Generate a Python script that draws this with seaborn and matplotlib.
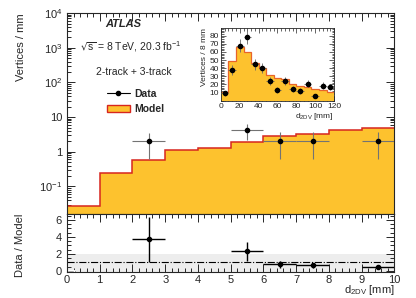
import numpy as np
import pandas as pd
import matplotlib
matplotlib.use("Agg")
import matplotlib.pyplot as plt
import seaborn as sns
from matplotlib.ticker import MultipleLocator, FixedLocator, FixedFormatter, LogLocator, NullFormatter
from matplotlib.lines import Line2D
from matplotlib.patches import Patch

# main panel: vertices per mm in 1 mm bins of d_2DV
bin_edges = [0, 1, 2, 3, 4, 5, 6, 7, 8, 9, 10]
model = [0.028, 0.24, 0.59, 1.12, 1.28, 1.85, 2.8, 3.3, 4.2, 4.8]

data_x = [2.5, 5.5, 6.5, 7.5, 9.5]
data_y = [2.1, 4.3, 2.1, 2.1, 2.1]
data_lo = [0.63, 2.2, 0.62, 0.62, 0.62]
data_hi = [3.5, 6.3, 3.6, 3.6, 3.6]

# ratio panel
ratio = [3.79, 2.37, 0.80, 0.64, 0.44]
ratio_lo = [1.0, 1.18, 0.36, 0.38, 0.28]
ratio_hi = [6.4, 3.43, 1.18, 0.92, 0.60]

# inset: vertices per 8 mm up to 120 mm
inset_edges = [0, 8, 16, 24, 32, 40, 48, 56, 64, 72, 80, 88, 96, 104, 112, 120]
inset_model = [11.2, 48.9, 65.7, 59.6, 46.8, 39.9, 31.7, 27.6, 26.4, 20.3, 18.2, 17.3, 14.9, 13.3, 10.8]
inset_x = [4, 12, 20, 28, 36, 44, 52, 60, 68, 76, 84, 92, 100, 108, 116]
inset_y = [9.2, 37.8, 67.7, 78.8, 44.8, 39.9, 24.3, 12.9, 24.7, 14.5, 12.0, 21.0, 5.9, 18.6, 17.0]
inset_err = [3.0, 6.0, 8.0, 9.0, 6.5, 6.0, 5.0, 3.5, 5.0, 4.0, 3.5, 4.5, 2.5, 4.3, 4.1]

fill_col = "#FDC22E"
edge_col = "#D7261E"

sns.set_style("ticks")
plt.rcParams["font.family"] = ["Liberation Sans", "DejaVu Sans"]
plt.rcParams["mathtext.default"] = "regular"
plt.rcParams["font.size"] = 8

fig = plt.figure(figsize=(4.16, 2.98), dpi=100)
ax = fig.add_axes([0.161, 0.282, 0.787, 0.674])
axr = fig.add_axes([0.161, 0.088, 0.787, 0.194], sharex=ax)
axi = fig.add_axes([0.531, 0.662, 0.272, 0.243])

df = pd.DataFrame({"x": np.array(bin_edges[:-1]) + 0.5, "w": model})
sns.histplot(data=df, x="x", weights="w", bins=bin_edges, element="step", fill=True,
             color=fill_col, alpha=1, linewidth=0, ax=ax)
ax.stairs(model, bin_edges, color=edge_col, lw=1.1, baseline=None)
ax.set_yscale("log")
ax.errorbar(data_x, data_y,
            yerr=[np.array(data_y) - data_lo, np.array(data_hi) - data_y],
            xerr=0.5, fmt="o", ms=3, color="k", ecolor="0.45", elinewidth=0.8, capsize=0, zorder=5)
ax.set_xlim(0, 10)
ax.set_ylim(0.016, 1e4)
ax.yaxis.set_major_locator(FixedLocator([0.1, 1, 10, 100, 1000, 10000]))
ax.yaxis.set_major_formatter(FixedFormatter(["$10^{-1}$", "1", "10", "$10^{2}$", "$10^{3}$", "$10^{4}$"]))
ax.yaxis.set_minor_locator(LogLocator(base=10, subs=np.arange(2, 10) * 1.0, numticks=20))
ax.yaxis.set_minor_formatter(NullFormatter())
ax.set_ylabel("Vertices / mm", loc="top", fontsize=8)
ax.yaxis.set_label_coords(-0.125, 1.0)
ax.set_xlabel("")

ax.text(0.116, 0.945, "ATLAS", transform=ax.transAxes, fontsize=8, fontweight="bold",
        style="italic", va="center")
ax.text(0.04, 0.832, r"$\sqrt{s}$ = 8 TeV, 20.3 fb$^{-1}$", transform=ax.transAxes,
        fontsize=7.5, va="center")
ax.text(0.088, 0.708, "2-track + 3-track", transform=ax.transAxes, fontsize=7.5, va="center")
handles = [Line2D([], [], color="k", marker="o", ms=3, lw=0.8),
           Patch(facecolor=fill_col, edgecolor=edge_col, lw=1)]
ax.legend(handles, ["Data", "Model"], loc="upper left", bbox_to_anchor=(0.1, 0.66),
          frameon=False, prop={"weight": "bold", "size": 7.5}, handlelength=2.2,
          handletextpad=0.4, labelspacing=0.55, borderpad=0.2)

# ratio panel
axr.axhspan(-0.2, 2, color="0.93", lw=0, zorder=0)
axr.bar([0.1], [0.25], width=0.2, bottom=-0.15, color="0.5", zorder=1)
axr.axhline(1, color="k", lw=0.8, ls="-.", zorder=2)
axr.errorbar(data_x, ratio,
             yerr=[np.array(ratio) - ratio_lo, np.array(ratio_hi) - ratio],
             xerr=0.5, fmt="o", ms=3, color="k", elinewidth=1.0, capsize=0, zorder=5)
axr.set_ylim(-0.12, 6.7)
axr.set_xlim(0, 10)
axr.yaxis.set_major_locator(FixedLocator([0, 2, 4, 6]))
axr.yaxis.set_minor_locator(MultipleLocator(0.5))
axr.xaxis.set_major_locator(MultipleLocator(1))
axr.xaxis.set_minor_locator(MultipleLocator(0.2))
axr.set_ylabel("Data / Model", loc="top", fontsize=8)
axr.yaxis.set_label_coords(-0.128, 1.0)
axr.set_xlabel("d$_{2DV}$ [mm]", loc="right", fontsize=8)
axr.xaxis.set_label_coords(1.0, -0.2)
axr.xaxis.label.set_va("top")

ax.xaxis.set_major_locator(MultipleLocator(1))
ax.xaxis.set_minor_locator(MultipleLocator(0.2))

for a in (ax, axr):
    a.tick_params(which="both", direction="in", top=True, right=True, labelsize=8, width=0.7)
    a.tick_params(which="major", length=6)
    a.tick_params(which="minor", length=3)
    for s in a.spines.values():
        s.set_linewidth(0.8)
ax.tick_params(axis="x", labelbottom=False)
axr.tick_params(axis="x", pad=2)

# inset
dfi = pd.DataFrame({"x": np.array(inset_edges[:-1]) + 4, "w": inset_model})
sns.histplot(data=dfi, x="x", weights="w", bins=inset_edges, element="step", fill=True,
             color=fill_col, alpha=1, linewidth=0, ax=axi)
axi.stairs(inset_model, inset_edges, color="#E8642A", lw=0.9, baseline=None)
axi.errorbar(inset_x, inset_y, yerr=inset_err, xerr=4, fmt="o", ms=3, color="k",
             ecolor="0.4", elinewidth=0.6, capsize=0, zorder=5)
axi.set_xlim(0, 120)
axi.set_ylim(0, 89)
axi.xaxis.set_major_locator(MultipleLocator(20))
axi.xaxis.set_minor_locator(MultipleLocator(4))
axi.yaxis.set_major_locator(FixedLocator([10, 20, 30, 40, 50, 60, 70, 80]))
axi.yaxis.set_minor_locator(MultipleLocator(2))
axi.tick_params(which="both", direction="in", top=True, right=True, labelsize=6, pad=1.5, width=0.5)
axi.tick_params(which="major", length=3.5)
axi.tick_params(which="minor", length=1.8)
for s in axi.spines.values():
    s.set_linewidth(0.6)
axi.set_ylabel("Vertices / 8 mm", loc="top", fontsize=6, labelpad=1)
axi.set_xlabel("d$_{2DV}$ [mm]", loc="right", fontsize=6, labelpad=1)

fig.savefig("out.png", dpi=100)
